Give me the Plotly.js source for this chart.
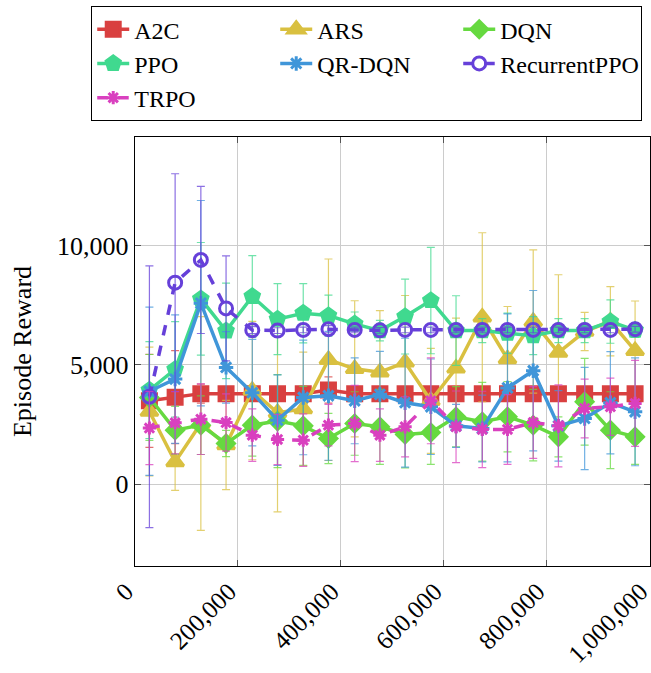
<!DOCTYPE html>
<html>
<head>
<meta charset="utf-8">
<script src="https://cdn.plot.ly/plotly-3.0.1.min.js"></script>
<style>html,body{margin:0;padding:0;background:#fff;}#chart{width:651px;height:673px;}</style>
</head>
<body>
<div id="chart"></div>
<script>
const steps = [28000, 78000, 128000, 177000, 228000, 277000, 327000, 376000, 427000, 476000, 525000, 575000, 624000, 675000, 724000, 774000, 823000, 874000, 924000, 972000];

const a2c     = [3500, 3650, 3800, 3800, 3800, 3800, 3800, 3950, 3800, 3800, 3800, 3800, 3800, 3800, 3800, 3800, 3800, 3800, 3800, 3800];
const a2cErr  = [1950, 1950, 400, 250, 100, 100, 100, 550, 100, 100, 100, 100, 100, 100, 100, 100, 100, 100, 100, 100];
const ars     = [3050, 940, 2550, 1650, 3930, 3000, 3160, 5220, 4840, 4700, 5110, 3500, 4860, 7000, 5250, 6820, 5520, 6400, 6830, 5600];
const arsErr  = [2700, 1190, 4480, 1870, 2900, 4150, 2380, 4220, 2850, 2580, 2800, 2200, 2100, 3540, 2200, 3000, 3260, 800, 1450, 2080];
const dqn     = [3640, 2270, 2480, 1710, 2480, 2650, 2450, 1920, 2550, 2410, 2090, 2170, 2830, 2620, 2830, 2480, 1990, 3460, 2270, 1990];
const dqnErr  = [1800, 1000, 1230, 550, 1300, 1950, 1650, 1050, 1330, 1570, 1400, 1330, 1260, 1650, 1470, 1500, 840, 1820, 1610, 1150];
const ppo     = [3950, 4820, 7770, 6430, 7870, 6920, 7170, 7070, 6720, 6440, 7030, 7700, 6440, 6440, 6330, 6230, 6440, 6440, 6820, 6460];
const ppoErr  = [2030, 2000, 2360, 2000, 1710, 1490, 1240, 860, 500, 430, 1570, 2230, 1460, 500, 840, 800, 500, 500, 910, 300];
const qrdqn   = [3900, 4410, 7590, 4900, 3840, 2690, 3640, 3710, 3500, 3770, 3420, 3250, 2450, 2340, 4040, 4760, 2450, 2760, 3420, 3040];
const qrErr   = [3520, 2690, 4300, 1500, 2230, 1900, 2400, 2700, 1800, 1800, 2700, 2000, 900, 1400, 3100, 3360, 1480, 2140, 2140, 2260];
const rppo    = [3670, 8450, 9400, 7370, 6460, 6440, 6470, 6500, 6470, 6450, 6470, 6470, 6470, 6470, 6470, 6470, 6470, 6470, 6470, 6500];
const rppoErr = [5480, 4560, 3080, 2200, 150, 120, 120, 150, 120, 120, 120, 120, 120, 120, 120, 120, 120, 120, 120, 120];
const trpo    = [2360, 2580, 2730, 2590, 2060, 1880, 1850, 2480, 2550, 2060, 2410, 3500, 2410, 2300, 2300, 2590, 2450, 3180, 3250, 3390];
const trpoErr = [1530, 1300, 1480, 1200, 1100, 1050, 1100, 870, 1600, 1100, 1260, 1800, 1500, 1600, 1460, 1500, 1720, 1230, 1200, 1800];

const names  = ['A2C', 'ARS', 'DQN', 'PPO', 'QR-DQN', 'RecurrentPPO', 'TRPO'];
const means  = [a2c, ars, dqn, ppo, qrdqn, rppo, trpo];
const errs   = [a2cErr, arsErr, dqnErr, ppoErr, qrErr, rppoErr, trpoErr];
const xTicks = [0, 200000, 400000, 600000, 800000, 1000000];
const yTicks = [0, 5000, 10000];

const colors = ['#d94040', '#d9c040', '#66d940', '#40d98f', '#4096d9', '#6640d9', '#d940bf'];
const errColors = ['rgba(217,64,64,0.75)', 'rgba(217,192,64,0.75)', 'rgba(102,217,64,0.75)', 'rgba(64,217,143,0.75)', 'rgba(64,150,217,0.75)', 'rgba(102,64,217,0.75)', 'rgba(217,64,191,0.75)'];
const symbols = ['square', 'triangle-up', 'diamond', 'pentagon', 'asterisk-open', 'circle-open', 'asterisk-open'];
const sizes  = [14, 15, 13, 15, 12, 13, 11];
const dashes = ['solid', 'solid', 'solid', 'solid', 'solid', 'dash', 'dash'];

const traces = names.map((n, i) => ({
  type: 'scatter',
  mode: 'lines+markers',
  name: n,
  x: steps,
  y: means[i],
  line: {color: colors[i], width: 3.5, dash: dashes[i]},
  marker: {symbol: symbols[i], size: sizes[i], color: colors[i], line: {color: colors[i], width: 3}},
  error_y: {type: 'data', array: errs[i], visible: true, color: errColors[i], thickness: 1.2, width: 4}
}));

const fam = '"Liberation Serif", "DejaVu Serif", serif';
const font = {family: fam, size: 26, color: '#000'};

const layout = {
  width: 651, height: 673,
  margin: {l: 135, r: 1, t: 137, b: 107},
  paper_bgcolor: '#fff', plot_bgcolor: '#fff',
  font: font,
  showlegend: true,
  legend: {
    orientation: 'h', x: -0.085, xanchor: 'left', y: 1.305, yanchor: 'top',
    entrywidth: 136, itemwidth: 32,
    bordercolor: '#000', borderwidth: 1, bgcolor: '#fff',
    font: {family: fam, size: 24, color: '#000'},
    tracegroupgap: 0
  },
  xaxis: {
    range: [0, 1001000],
    tickvals: xTicks,
    tickformat: ',', tickangle: -45,
    ticklabeloverflow: 'allow',
    ticklabelshift: -9,
    showgrid: true, gridcolor: '#cccccc', gridwidth: 1,
    zeroline: false,
    showline: true, linecolor: '#000', linewidth: 1.2, mirror: 'ticks',
    ticks: 'inside', ticklen: 6, tickcolor: '#555',
    tickfont: {family: fam, size: 25, color: '#000'}
  },
  yaxis: {
    range: [-3420, 14550],
    tickvals: yTicks,
    tickformat: ',',
    showgrid: true, gridcolor: '#cccccc', gridwidth: 1,
    zeroline: false,
    showline: true, linecolor: '#000', linewidth: 1.2, mirror: 'ticks',
    ticks: 'inside', ticklen: 6, tickcolor: '#555',
    tickfont: font,
    title: {text: 'Episode Reward', font: font, standoff: 18}
  }
};

Plotly.newPlot('chart', traces, layout, {displayModeBar: false, staticPlot: true});
</script>
</body>
</html>
